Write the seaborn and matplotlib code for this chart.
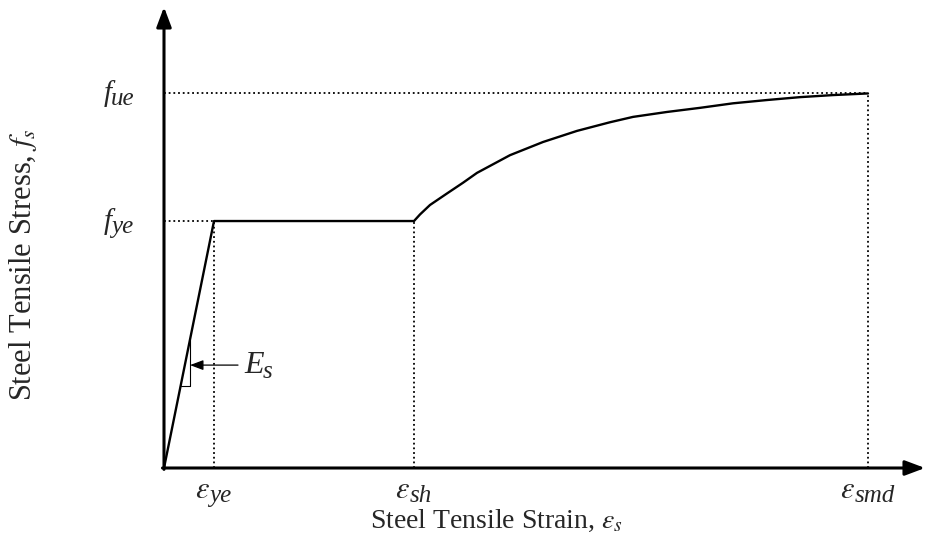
import numpy as np
import pandas as pd
import matplotlib
matplotlib.use("Agg")
import matplotlib.pyplot as plt
import matplotlib.transforms as mtransforms
import seaborn as sns

# ---- data ----
eps_ye, eps_sh, eps_smd = 0.0025, 0.0125, 0.0352
f_ye, f_ue = 60.0, 91.0
strain = [0.0, 0.0025, 0.0125, 0.0128, 0.0133, 0.01415, 0.01495, 0.01565, 0.0173, 0.01895,
          0.02065, 0.0223, 0.02345, 0.02515, 0.0268, 0.02845, 0.03015, 0.0318, 0.03345, 0.0352]
stress = [0.0, 60.0, 60.0, 61.6, 63.9, 66.7, 69.3, 71.7, 76.0, 79.2,
          81.9, 84.0, 85.3, 86.5, 87.5, 88.6, 89.4, 90.1, 90.6, 91.0]
x_ticks = [eps_ye, eps_sh, eps_smd]
x_tick_main = [r"$\varepsilon$"] * 3
x_tick_sub = ["ye", "sh", "smd"]
y_ticks = [f_ye, f_ue]
y_tick_main = ["f", "f"]
y_tick_sub = ["ye", "ue"]
x_max, y_max = 0.03805, 112.0

sns.set_style("white")
plt.rcParams["font.family"] = ["Liberation Serif", "DejaVu Serif"]
plt.rcParams["mathtext.fontset"] = "stix"

fig = plt.figure(figsize=(9.31, 5.52), dpi=100)
W, H = 931, 552
ax = fig.add_axes([164 / W, 84 / H, (925 - 164) / W, (468 - 7) / H])
ax.set_xlim(0, x_max)
ax.set_ylim(0, y_max)
for s in ax.spines.values():
    s.set_visible(False)
ax.set_xticks([])
ax.set_yticks([])

df = pd.DataFrame({"strain": strain, "stress": stress})
sns.lineplot(data=df, x="strain", y="stress", color="black", lw=1.7, ax=ax,
             sort=False, estimator=None)
ax.set_xlabel("")
ax.set_ylabel("")

dot = dict(color="black", lw=1.3, linestyle=(0, (1, 1.6)))
ax.plot([0, eps_ye], [f_ye, f_ye], **dot)
ax.plot([0, eps_smd], [f_ue, f_ue], **dot)
ax.plot([eps_ye, eps_ye], [0, f_ye], **dot)
ax.plot([eps_sh, eps_sh], [0, f_ye], **dot)
ax.plot([eps_smd, eps_smd], [0, f_ue], **dot)

arrow = dict(arrowstyle="-|>,head_length=1.2,head_width=0.45", color="black", lw=2.2,
             shrinkA=0, shrinkB=0)
ax.annotate("", xy=(1.0, 0), xytext=(-0.002, 0), xycoords="axes fraction",
            arrowprops=arrow, annotation_clip=False)
ax.annotate("", xy=(0, 1.0), xytext=(0, -0.003), xycoords="axes fraction",
            arrowprops=arrow, annotation_clip=False)

# slope triangle
E_slope = f_ye / eps_ye
tx = 0.0013
y_lo, y_hi = 19.9, tx * E_slope
ax.plot([y_lo / E_slope, tx, tx], [y_lo, y_lo, y_hi], color="black", lw=0.8)
ax.annotate("", xy=(tx, 25.0), xytext=(0.0037, 25.0),
            arrowprops=dict(arrowstyle="-|>,head_length=0.8,head_width=0.3",
                            color="black", lw=0.9, shrinkA=0, shrinkB=0))

renderer = fig.canvas.get_renderer()


def sym(x, y, main, sub, transform, size, subsize, ha="center", dy=0, drop=5,
        main_style="italic"):
    base = mtransforms.offset_copy(transform, fig, x=0, y=dy, units="dots")
    t1 = ax.text(x, y, main, transform=base, fontsize=size, ha="left",
                 va="baseline", style=main_style)
    w1 = t1.get_window_extent(renderer).width
    t2 = ax.text(x, y, sub, transform=base, fontsize=subsize, ha="left",
                 va="baseline", style="italic")
    w2 = t2.get_window_extent(renderer).width
    shift = -(w1 + w2) / 2 if ha == "center" else 0
    t1.set_transform(mtransforms.offset_copy(transform, fig, x=shift, y=dy, units="dots"))
    t2.set_transform(mtransforms.offset_copy(transform, fig, x=shift + w1 - 1,
                                             y=dy - drop, units="dots"))


for xv, m, sb in zip(x_ticks, x_tick_main, x_tick_sub):
    sym(xv, 0, m, sb, ax.transData, 22, 18, ha="center", dy=-30, drop=4,
        main_style="normal")
trans = mtransforms.blended_transform_factory(fig.transFigure, ax.transData)
for yv, m, sb in zip(y_ticks, y_tick_main, y_tick_sub):
    sym(104 / W, yv, m, sb, trans, 21, 18, ha="left", dy=-8, drop=4)

sym(0.0040, 25.0, "E", "s", ax.transData, 23, 18, ha="left", dy=-8, drop=5)

fig.text(496 / W, 1 - 521 / H, r"Steel Tensile Strain, $\varepsilon_s$",
         fontsize=20, ha="center", va="center")
fig.text(23 / W, 1 - 265 / H, r"Steel Tensile Stress, $f_s$",
         fontsize=22, ha="center", va="center", rotation=90)

fig.savefig("out.png", dpi=100)
